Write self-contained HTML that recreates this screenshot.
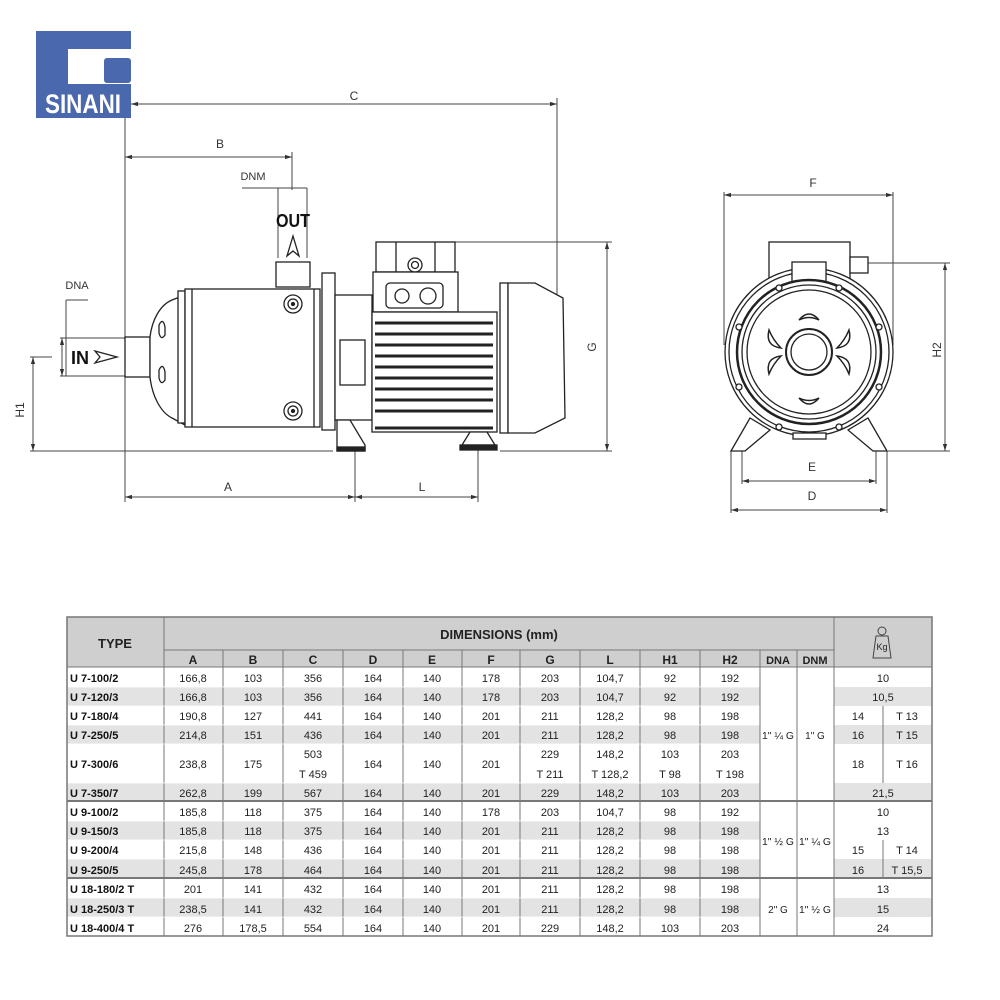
<!DOCTYPE html>
<html><head><meta charset="utf-8"><style>
html,body{margin:0;padding:0;background:#fff;}
svg{display:block;}
text{font-family:"Liberation Sans",sans-serif;}
</style></head><body>
<svg width="1000" height="1000" viewBox="0 0 1000 1000" xmlns="http://www.w3.org/2000/svg">
<defs>
<marker id="ar" viewBox="0 0 10 10" refX="10" refY="5" markerWidth="7" markerHeight="7" orient="auto-start-reverse"><path d="M0,2 L10,5 L0,8 z" fill="#333"/></marker>
</defs>
<!-- logo -->
<rect x="36" y="31" width="95" height="87" fill="#4a68ad"/>
<rect x="68" y="49" width="63" height="35" fill="#fff"/>
<rect x="104" y="58" width="27" height="25" rx="3" fill="#4a68ad"/>
<text x="45" y="113" font-size="27" font-weight="bold" fill="#fff" textLength="76" lengthAdjust="spacingAndGlyphs">SINANI</text>

<g stroke="#444" stroke-width="1" fill="none">
<line x1="131" y1="104" x2="557" y2="104" marker-start="url(#ar)" marker-end="url(#ar)"/>
<line x1="557" y1="98" x2="557" y2="295"/>
<line x1="125" y1="118" x2="125" y2="502"/>
<line x1="125" y1="157" x2="292" y2="157" marker-start="url(#ar)" marker-end="url(#ar)"/>
<line x1="292" y1="152" x2="292" y2="190"/>
<line x1="242" y1="188" x2="307" y2="188"/>
<line x1="278" y1="188" x2="278" y2="258"/>
<line x1="307" y1="188" x2="307" y2="258"/>
<line x1="66" y1="300" x2="88" y2="300"/>
<line x1="66" y1="300" x2="66" y2="376"/>
<line x1="60" y1="338" x2="125" y2="338"/>
<line x1="60" y1="376" x2="125" y2="376"/>
<line x1="62" y1="338" x2="62" y2="376" marker-start="url(#ar)" marker-end="url(#ar)"/>
<line x1="30" y1="357" x2="52" y2="357"/>
<line x1="33" y1="357" x2="33" y2="451" marker-start="url(#ar)" marker-end="url(#ar)"/>
<line x1="30" y1="451" x2="333" y2="451"/>
<line x1="455" y1="242" x2="612" y2="242"/>
<line x1="500" y1="451" x2="612" y2="451"/>
<line x1="607" y1="242" x2="607" y2="451" marker-start="url(#ar)" marker-end="url(#ar)"/>
<line x1="125" y1="497" x2="355" y2="497" marker-start="url(#ar)" marker-end="url(#ar)"/>
<line x1="355" y1="497" x2="478" y2="497" marker-start="url(#ar)" marker-end="url(#ar)"/>
<line x1="355" y1="440" x2="355" y2="502"/>
<line x1="478" y1="440" x2="478" y2="502"/>
</g>
<g font-size="12" fill="#333" text-anchor="middle">
<text x="354" y="100">C</text><text x="220" y="148">B</text><text x="253" y="180" font-size="11">DNM</text>
<text x="77" y="289" font-size="11">DNA</text><text x="228" y="491">A</text><text x="422" y="491">L</text>
<text transform="translate(596,347) rotate(-90)">G</text>
<text transform="translate(24,410) rotate(-90)">H1</text>
</g>
<text x="293" y="227" font-size="18" font-weight="bold" text-anchor="middle" fill="#111" textLength="34" lengthAdjust="spacingAndGlyphs">OUT</text>
<path d="M293,236 L287,256 L293,251 L299,256 Z" fill="none" stroke="#222" stroke-width="1.3"/>
<text x="80" y="364" font-size="18" font-weight="bold" text-anchor="middle" fill="#111">IN</text>
<path d="M95,351 L117,357 L95,363 L100,357 Z" fill="none" stroke="#222" stroke-width="1.3"/>

<g stroke="#222" stroke-width="1.3" fill="#fff">
<rect x="276" y="262" width="34" height="25"/>
<rect x="125" y="337" width="25" height="40"/>
<path d="M150,337 C152,320 160,305 172,300 L185,295 L185,425 L172,418 C160,412 152,395 150,377 Z"/>
<rect x="178" y="291" width="7" height="132"/>
<rect x="185" y="289" width="135" height="138"/>
<line x1="192" y1="289" x2="192" y2="427"/>
<line x1="314" y1="289" x2="314" y2="427"/>
<path d="M159,325 q4,-8 6,2 v8 q-4,6 -6,-2z"/>
<path d="M159,370 q4,-8 6,2 v8 q-4,6 -6,-2z"/>
<circle cx="293" cy="304" r="9"/><circle cx="293" cy="304" r="5"/><circle cx="293" cy="304" r="1.5" fill="#222"/>
<circle cx="293" cy="411" r="9"/><circle cx="293" cy="411" r="5"/><circle cx="293" cy="411" r="1.5" fill="#222"/>
<rect x="322" y="273" width="13" height="157"/>
<rect x="335" y="295" width="37" height="125"/>
<rect x="340" y="340" width="25" height="45"/>
<path d="M337,420 L350,420 L365,445 L365,451 L337,451 Z" fill="#fff"/>
<rect x="337" y="447" width="28" height="4" fill="#222"/>
<rect x="376" y="242" width="79" height="30"/>
<line x1="396" y1="242" x2="396" y2="272"/><line x1="435" y1="242" x2="435" y2="272"/>
<circle cx="415" cy="265" r="7"/><circle cx="415" cy="265" r="3.5"/>
<rect x="373" y="272" width="85" height="40"/>
<rect x="386" y="283" width="57" height="25" rx="4"/>
<circle cx="402" cy="296" r="7"/><circle cx="428" cy="296" r="8"/>
<rect x="372" y="312" width="125" height="120"/>
<rect x="500" y="283" width="8" height="150"/>
<path d="M508,283 L535,283 L563,298 L565,418 L535,433 L508,433 Z"/>
<path d="M462,445 L470,432 L487,432 L495,445 Z"/>
<rect x="460" y="445" width="37" height="5" fill="#222"/>
</g>
<g stroke="#222" stroke-width="3">
<line x1="375" y1="323" x2="493" y2="323"/><line x1="375" y1="334" x2="493" y2="334"/>
<line x1="375" y1="345" x2="493" y2="345"/><line x1="375" y1="356" x2="493" y2="356"/>
<line x1="375" y1="367" x2="493" y2="367"/><line x1="375" y1="378" x2="493" y2="378"/>
<line x1="375" y1="389" x2="493" y2="389"/><line x1="375" y1="400" x2="493" y2="400"/>
<line x1="375" y1="411" x2="493" y2="411"/><line x1="375" y1="428" x2="493" y2="428"/>
</g>

<g stroke="#444" stroke-width="1" fill="none">
<line x1="724" y1="195" x2="893" y2="195" marker-start="url(#ar)" marker-end="url(#ar)"/>
<line x1="724" y1="192" x2="724" y2="345"/><line x1="893" y1="192" x2="893" y2="345"/>
<line x1="868" y1="263" x2="950" y2="263"/><line x1="888" y1="451" x2="950" y2="451"/>
<line x1="945" y1="263" x2="945" y2="451" marker-start="url(#ar)" marker-end="url(#ar)"/>
<line x1="742" y1="481" x2="876" y2="481" marker-start="url(#ar)" marker-end="url(#ar)"/>
<line x1="731" y1="510" x2="887" y2="510" marker-start="url(#ar)" marker-end="url(#ar)"/>
<line x1="742" y1="451" x2="742" y2="484"/><line x1="876" y1="451" x2="876" y2="484"/>
<line x1="731" y1="451" x2="731" y2="513"/><line x1="887" y1="451" x2="887" y2="513"/>
</g>
<g font-size="12" fill="#333" text-anchor="middle">
<text x="813" y="187">F</text><text x="812" y="471">E</text><text x="812" y="500">D</text>
<text transform="translate(941,350) rotate(-90)">H2</text>
</g>
<g stroke="#222" stroke-width="1.3" fill="#fff">
<path d="M731,451 L750,418 L770,430 L745,451 Z"/>
<path d="M887,451 L868,418 L848,430 L873,451 Z"/>
<rect x="769" y="242" width="81" height="50"/>
<rect x="850" y="257" width="18" height="16"/>
<circle cx="809" cy="352" r="84"/>
<circle cx="809" cy="352" r="80"/>
<rect x="792" y="262" width="34" height="30"/>
<circle cx="809" cy="352" r="72" stroke-width="2.5"/>
<circle cx="809" cy="352" r="67"/>
<circle cx="809" cy="352" r="62"/>
<circle cx="809" cy="352" r="23" stroke-width="2"/>
<circle cx="809" cy="352" r="18"/>
<rect x="793" y="433" width="33" height="6"/>
</g>
<g stroke="#222" stroke-width="1.5" fill="#fff">
<path d="M799,320 q10,-12 20,0 q-10,-5 -20,0z"/>
<path d="M799,398 q10,12 20,0 q-10,5 -20,0z"/>
<path d="M769,330 q-4,16 12,18 q-8,-8 -12,-18z"/>
<path d="M849,330 q4,16 -12,18 q8,-8 12,-18z"/>
<path d="M769,374 q-4,-16 12,-18 q-8,8 -12,18z"/>
<path d="M849,374 q4,-16 -12,-18 q8,8 12,18z"/>
</g>
<g fill="#fff" stroke="#222" stroke-width="1.3">
<circle cx="779" cy="288" r="3"/><circle cx="839" cy="288" r="3"/>
<circle cx="739" cy="327" r="3"/><circle cx="879" cy="327" r="3"/>
<circle cx="739" cy="387" r="3"/><circle cx="879" cy="387" r="3"/>
<circle cx="779" cy="427" r="3"/><circle cx="839" cy="427" r="3"/>
</g>

<g>
<rect x="67" y="617" width="865" height="50" fill="#cfcfcf"/>
<g fill="#e3e3e3">
<rect x="67" y="687" width="767" height="19"/><rect x="67" y="725" width="767" height="19"/><rect x="67" y="783" width="767" height="18"/>
<rect x="67" y="821" width="767" height="19"/><rect x="67" y="859" width="767" height="19"/><rect x="67" y="898" width="767" height="19"/>
<rect x="834" y="687" width="98" height="19"/><rect x="834" y="725" width="98" height="19"/><rect x="834" y="783" width="98" height="18"/>
<rect x="834" y="859" width="98" height="19"/><rect x="834" y="898" width="98" height="19"/>
</g>
<rect x="760" y="667" width="74" height="269" fill="#fff"/>
<g stroke="#777" stroke-width="1" fill="none">
<rect x="67" y="617" width="865" height="319" stroke-width="1.5"/>
<line x1="164" y1="650" x2="834" y2="650"/>
<line x1="67" y1="667" x2="932" y2="667"/>
<line x1="67" y1="801" x2="932" y2="801" stroke-width="2"/>
<line x1="67" y1="878" x2="932" y2="878" stroke-width="2"/>
<line x1="164" y1="617" x2="164" y2="936"/>
<line x1="834" y1="617" x2="834" y2="936"/>
<line x1="223" y1="650" x2="223" y2="936"/><line x1="283" y1="650" x2="283" y2="936"/>
<line x1="343" y1="650" x2="343" y2="936"/><line x1="403" y1="650" x2="403" y2="936"/>
<line x1="462" y1="650" x2="462" y2="936"/><line x1="520" y1="650" x2="520" y2="936"/>
<line x1="580" y1="650" x2="580" y2="936"/><line x1="640" y1="650" x2="640" y2="936"/>
<line x1="700" y1="650" x2="700" y2="936"/><line x1="760" y1="650" x2="760" y2="936"/>
<line x1="797" y1="650" x2="797" y2="936"/>
<line x1="883" y1="706" x2="883" y2="783"/><line x1="883" y1="840" x2="883" y2="878"/>
</g>
<g stroke="#fff" stroke-width="0.8">
<line x1="68" y1="687" x2="759" y2="687"/><line x1="68" y1="706" x2="759" y2="706"/><line x1="68" y1="725" x2="759" y2="725"/>
<line x1="68" y1="744" x2="759" y2="744"/><line x1="68" y1="783" x2="759" y2="783"/><line x1="68" y1="821" x2="759" y2="821"/>
<line x1="68" y1="840" x2="759" y2="840"/><line x1="68" y1="859" x2="759" y2="859"/><line x1="68" y1="898" x2="759" y2="898"/>
<line x1="68" y1="917" x2="759" y2="917"/>
</g>
<g font-size="13" font-weight="bold" fill="#222" text-anchor="middle">
<text x="115" y="648">TYPE</text><text x="499" y="639">DIMENSIONS (mm)</text>
</g>
<g font-size="12" font-weight="bold" fill="#222" text-anchor="middle">
<text x="193" y="664">A</text><text x="253" y="664">B</text><text x="313" y="664">C</text><text x="373" y="664">D</text>
<text x="432" y="664">E</text><text x="491" y="664">F</text><text x="550" y="664">G</text><text x="610" y="664">L</text>
<text x="670" y="664">H1</text><text x="730" y="664">H2</text><text x="778" y="664" font-size="11">DNA</text><text x="815" y="664" font-size="11">DNM</text>
</g>
<g stroke="#444" fill="none" stroke-width="1">
<path d="M876,636 L888,636 L891,658 L873,658 Z"/><circle cx="882" cy="631" r="4"/>
</g>
<text x="882" y="650" font-size="9" text-anchor="middle" fill="#222">Kg</text>
<g font-size="11" font-weight="bold" fill="#111">
<text x="70" y="682">U 7-100/2</text><text x="70" y="701">U 7-120/3</text><text x="70" y="720">U 7-180/4</text>
<text x="70" y="739">U 7-250/5</text><text x="70" y="768">U 7-300/6</text><text x="70" y="797">U 7-350/7</text>
<text x="70" y="816">U 9-100/2</text><text x="70" y="835">U 9-150/3</text><text x="70" y="854">U 9-200/4</text>
<text x="70" y="874">U 9-250/5</text><text x="70" y="893">U 18-180/2 T</text><text x="70" y="913">U 18-250/3 T</text>
<text x="70" y="932">U 18-400/4 T</text>
</g>
<g font-size="11" fill="#222" text-anchor="middle">
<g transform="translate(0,682)"><text x="193">166,8</text><text x="253">103</text><text x="313">356</text><text x="373">164</text><text x="432">140</text><text x="491">178</text><text x="550">203</text><text x="610">104,7</text><text x="670">92</text><text x="730">192</text><text x="883">10</text></g>
<g transform="translate(0,701)"><text x="193">166,8</text><text x="253">103</text><text x="313">356</text><text x="373">164</text><text x="432">140</text><text x="491">178</text><text x="550">203</text><text x="610">104,7</text><text x="670">92</text><text x="730">192</text><text x="883">10,5</text></g>
<g transform="translate(0,720)"><text x="193">190,8</text><text x="253">127</text><text x="313">441</text><text x="373">164</text><text x="432">140</text><text x="491">201</text><text x="550">211</text><text x="610">128,2</text><text x="670">98</text><text x="730">198</text><text x="858">14</text><text x="907">T 13</text></g>
<g transform="translate(0,739)"><text x="193">214,8</text><text x="253">151</text><text x="313">436</text><text x="373">164</text><text x="432">140</text><text x="491">201</text><text x="550">211</text><text x="610">128,2</text><text x="670">98</text><text x="730">198</text><text x="858">16</text><text x="907">T 15</text><text x="778" font-size="10" textLength="32" lengthAdjust="spacingAndGlyphs">1" ¼ G</text><text x="815" font-size="10">1" G</text></g>
<g transform="translate(0,768)"><text x="193">238,8</text><text x="253">175</text><text x="373">164</text><text x="432">140</text><text x="491">201</text><text x="858">18</text><text x="907">T 16</text></g>
<g transform="translate(0,758)"><text x="313">503</text><text x="550">229</text><text x="610">148,2</text><text x="670">103</text><text x="730">203</text></g>
<g transform="translate(0,778)"><text x="313">T 459</text><text x="550">T 211</text><text x="610">T 128,2</text><text x="670">T 98</text><text x="730">T 198</text></g>
<g transform="translate(0,797)"><text x="193">262,8</text><text x="253">199</text><text x="313">567</text><text x="373">164</text><text x="432">140</text><text x="491">201</text><text x="550">229</text><text x="610">148,2</text><text x="670">103</text><text x="730">203</text><text x="883">21,5</text></g>
<g transform="translate(0,816)"><text x="193">185,8</text><text x="253">118</text><text x="313">375</text><text x="373">164</text><text x="432">140</text><text x="491">178</text><text x="550">203</text><text x="610">104,7</text><text x="670">98</text><text x="730">192</text><text x="883">10</text></g>
<g transform="translate(0,835)"><text x="193">185,8</text><text x="253">118</text><text x="313">375</text><text x="373">164</text><text x="432">140</text><text x="491">201</text><text x="550">211</text><text x="610">128,2</text><text x="670">98</text><text x="730">198</text><text x="883">13</text></g>
<g transform="translate(0,845)"><text x="778" font-size="10" textLength="32" lengthAdjust="spacingAndGlyphs">1" ½ G</text><text x="815" font-size="10" textLength="32" lengthAdjust="spacingAndGlyphs">1" ¼ G</text></g>
<g transform="translate(0,854)"><text x="193">215,8</text><text x="253">148</text><text x="313">436</text><text x="373">164</text><text x="432">140</text><text x="491">201</text><text x="550">211</text><text x="610">128,2</text><text x="670">98</text><text x="730">198</text><text x="858">15</text><text x="907">T 14</text></g>
<g transform="translate(0,874)"><text x="193">245,8</text><text x="253">178</text><text x="313">464</text><text x="373">164</text><text x="432">140</text><text x="491">201</text><text x="550">211</text><text x="610">128,2</text><text x="670">98</text><text x="730">198</text><text x="858">16</text><text x="907">T 15,5</text></g>
<g transform="translate(0,893)"><text x="193">201</text><text x="253">141</text><text x="313">432</text><text x="373">164</text><text x="432">140</text><text x="491">201</text><text x="550">211</text><text x="610">128,2</text><text x="670">98</text><text x="730">198</text><text x="883">13</text></g>
<g transform="translate(0,913)"><text x="193">238,5</text><text x="253">141</text><text x="313">432</text><text x="373">164</text><text x="432">140</text><text x="491">201</text><text x="550">211</text><text x="610">128,2</text><text x="670">98</text><text x="730">198</text><text x="883">15</text><text x="778" font-size="10">2" G</text><text x="815" font-size="10" textLength="32" lengthAdjust="spacingAndGlyphs">1" ½ G</text></g>
<g transform="translate(0,932)"><text x="193">276</text><text x="253">178,5</text><text x="313">554</text><text x="373">164</text><text x="432">140</text><text x="491">201</text><text x="550">229</text><text x="610">148,2</text><text x="670">103</text><text x="730">203</text><text x="883">24</text></g>
</g>
</g>
</svg>
</body></html>
